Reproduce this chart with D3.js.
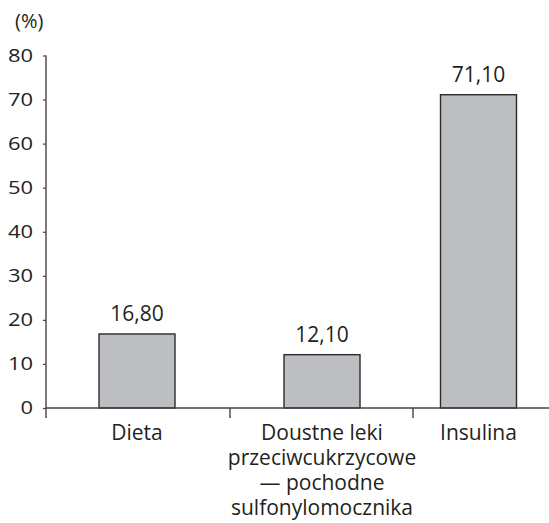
<!DOCTYPE html>
<html><head><meta charset="utf-8">
<script src="https://cdn.jsdelivr.net/npm/d3@7"></script>
<style>body{margin:0;background:#fff}svg{display:block}text{font-family:"Open Sans",sans-serif;fill:#231f20}</style>
</head><body>
<svg id="c" width="549" height="523"></svg>
<script>
const categories = ["Dieta", "Doustne leki|przeciwcukrzycowe|— pochodne|sulfonylomocznika", "Insulina"];
const values = [16.80, 12.10, 71.10];
const valueLabels = ["16,80", "12,10", "71,10"];
const yTicks = [0, 10, 20, 30, 40, 50, 60, 70, 80];
const unitLabel = "(%)";

const svg = d3.select("#c");
const y = d3.scaleLinear().domain([0, 80]).range([408, 55.5]);
// piecewise scale of bar centres by category index
const xc = d3.scaleLinear().domain([0, 1, 2]).range([137, 322, 478.5]);
// boundaries between categories
const xb = d3.scaleLinear().domain([0, 1, 2]).range([46, 230, 413]);
const barW = 76;

// bars
svg.selectAll("rect.bar").data(values).join("rect")
  .attr("x", (d, i) => xc(i) - barW / 2)
  .attr("y", d => y(d))
  .attr("width", barW)
  .attr("height", d => y(0) - y(d))
  .attr("fill", "#bdbec2")
  .attr("stroke", "#2b2b2b")
  .attr("stroke-width", 1.4);

// value labels
svg.selectAll("text.val").data(values).join("text")
  .attr("x", (d, i) => xc(i))
  .attr("y", d => y(d) - 13)
  .attr("text-anchor", "middle")
  .attr("font-size", 21)
  .text((d, i) => valueLabels[i]);

// y axis
const yAxis = d3.axisLeft(y).tickValues(yTicks).tickSize(3).tickFormat(d3.format("d"));
const gy = svg.append("g").attr("transform", "translate(46,0)").call(yAxis);
gy.select(".domain").remove();
gy.selectAll(".tick line").attr("stroke", "#444").attr("stroke-width", 1.2);
gy.selectAll(".tick text")
  .attr("x", 0)
  .attr("transform", "translate(-13,0) scale(1.22,1)")
  .attr("font-size", 18).attr("font-family", "Open Sans").attr("fill", "#231f20");
svg.append("line").attr("x1", 46).attr("x2", 46).attr("y1", y(80)).attr("y2", 418)
  .attr("stroke", "#444").attr("stroke-width", 1.4);

// x axis
svg.append("line").attr("x1", 46).attr("x2", 549).attr("y1", y(0)).attr("y2", y(0))
  .attr("stroke", "#444").attr("stroke-width", 1.4);
svg.selectAll("line.div").data([1, 2]).join("line")
  .attr("x1", d => xb(d)).attr("x2", d => xb(d))
  .attr("y1", y(0)).attr("y2", 418)
  .attr("stroke", "#444").attr("stroke-width", 1.4);

// category labels
categories.forEach((c, i) => {
  const t = svg.append("text").attr("text-anchor", "middle").attr("font-size", 21);
  c.split("|").forEach((line, j) => {
    t.append("tspan").attr("x", xc(i)).attr("y", 440 + j * 25).text(line);
  });
});

// unit label
svg.append("text").attr("x", 15).attr("y", 28).attr("font-size", 20).text(unitLabel);
</script>
</body></html>
